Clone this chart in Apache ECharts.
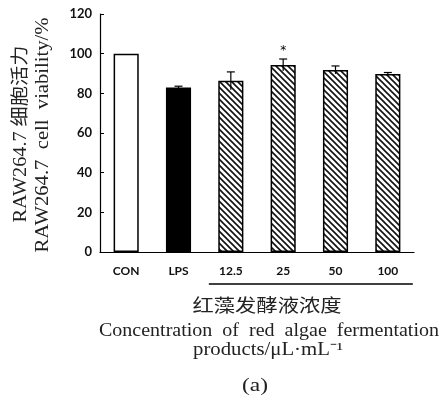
<!DOCTYPE html>
<html><head><meta charset="utf-8">
<script src="https://cdn.jsdelivr.net/npm/echarts@6/dist/echarts.min.js"></script>
<style>html,body{margin:0;padding:0;background:#fff}#c{width:443px;height:404px}</style>
</head><body><div id="c"></div>
<script>
const categories = ['CON', 'LPS', '12.5', '25', '50', '100'];
const values = [100, 83, 86.3, 94.3, 91.8, 89.8];
const errors = [0, 0.6, 4.5, 3.0, 2.0, 0.7];
const marks = ['', '', '', '*', '', ''];
const yTicks = [0, 20, 40, 60, 80, 100, 120];

function hatch() {
  const s = 6, c = document.createElement('canvas');
  c.width = s; c.height = s;
  const g = c.getContext('2d');
  g.fillStyle = '#fff'; g.fillRect(0, 0, s, s);
  g.strokeStyle = '#111'; g.lineWidth = 1.6;
  g.beginPath();
  g.moveTo(-1, -1); g.lineTo(s + 1, s + 1);
  g.moveTo(-1, s - 1); g.lineTo(1, s + 1);
  g.moveTo(s - 1, -1); g.lineTo(s + 1, 1);
  g.stroke();
  return c;
}
const pat = { image: hatch(), repeat: 'repeat' };
const fills = ['#fff', '#000', pat, pat, pat, pat];

const serif = '"Liberation Serif","Noto Sans CJK SC",serif';
const mctx = document.createElement('canvas').getContext('2d');
function stretched(text, cx, cy, target, size, rot) {
  mctx.font = size + 'px ' + serif;
  const w = mctx.measureText(text).width;
  return { type: 'text', x: cx, y: cy, rotation: rot || 0, scaleX: target / w,
    style: { text: text, fill: '#222', font: size + 'px ' + serif, align: 'center', verticalAlign: 'middle' } };
}

const chart = echarts.init(document.getElementById('c'));
chart.setOption({
  animation: false,
  grid: { left: 100, right: 29, top: 14, bottom: 152 },
  xAxis: {
    type: 'category', data: categories,
    axisLine: { lineStyle: { color: '#000', width: 1.2 } },
    axisTick: { inside: true, length: 4, lineStyle: { color: '#000' } },
    axisLabel: { color: '#111', fontFamily: 'Lato', fontWeight: 'bold', fontSize: 12, margin: 13 }
  },
  yAxis: {
    type: 'value', min: 0, max: 120, interval: 20,
    axisLine: { show: true, lineStyle: { color: '#000', width: 1.2 } },
    axisTick: { show: true, inside: true, length: 4, lineStyle: { color: '#000' } },
    splitLine: { show: false },
    axisLabel: { color: '#111', fontFamily: 'Lato', fontWeight: 'bold', fontSize: 13, margin: 8,
      formatter: v => yTicks.includes(v) ? String(v) : '' }
  },
  series: [
    {
      type: 'bar', barWidth: '48%',
      data: values.map((v, i) => ({ value: v, itemStyle: { color: fills[i] } })),
      itemStyle: { borderColor: '#000', borderWidth: 1.5 }
    },
    {
      type: 'custom',
      data: values.map((v, i) => [i, v, errors[i]]),
      renderItem: (params, api) => {
        const x = api.value(0), v = api.value(1), e = api.value(2);
        const top = api.coord([x, v + e]), bot = api.coord([x, v - e]);
        const ch = [];
        if (e > 0) {
          ch.push({ type: 'line', shape: { x1: top[0], y1: top[1], x2: bot[0], y2: bot[1] }, style: { stroke: '#000', lineWidth: 1.2 } });
          ch.push({ type: 'line', shape: { x1: top[0] - 4, y1: top[1], x2: top[0] + 4, y2: top[1] }, style: { stroke: '#000', lineWidth: 1.2 } });
        }
        const mk = marks[params.dataIndex];
        if (mk) ch.push({ type: 'text', x: top[0], y: top[1] - 2, style: { text: mk, fill: '#000', fontSize: 12, fontFamily: 'DejaVu Sans', align: 'center', verticalAlign: 'bottom' } });
        return { type: 'group', children: ch };
      },
      z: 5
    }
  ]
});

const p1 = chart.convertToPixel({ xAxisIndex: 0 }, '12.5');
const p2 = chart.convertToPixel({ xAxisIndex: 0 }, '100');
chart.setOption({
  graphic: [
    { type: 'line', shape: { x1: p1 - 22, y1: 284, x2: p2 + 25, y2: 284 }, style: { stroke: '#000', lineWidth: 1.5 } },
    stretched('RAW264.7 细胞活力', 21, 134, 177, 18, Math.PI / 2),
    stretched('RAW264.7  cell  viability/%', 43, 135, 235, 18, Math.PI / 2),
    stretched('红藻发酵液浓度', 267, 307, 149, 18),
    stretched('Concentration  of  red  algae  fermentation', 269, 331, 340, 18),
    stretched('products/μL·mL⁻¹', 268, 350, 150, 18),
    stretched('(a)', 255, 386, 26, 18)
  ]
});
</script></body></html>
